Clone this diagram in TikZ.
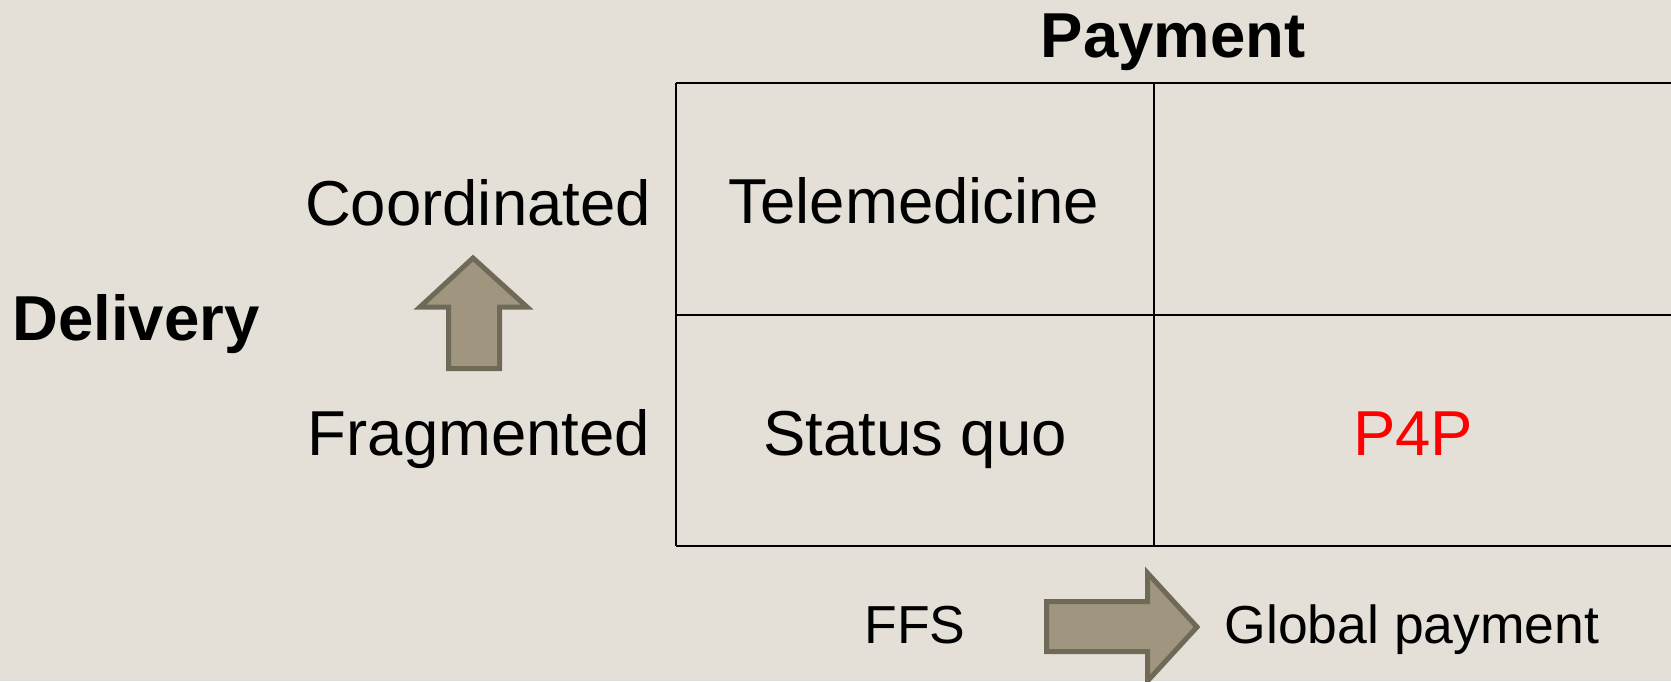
\documentclass[tikz,border=0pt]{standalone}
\usepackage{fontspec}
\setmainfont{Liberation Sans}
\definecolor{slidebg}{HTML}{E4E0D8}
\definecolor{arrowfill}{HTML}{A09680}
\definecolor{arrowline}{HTML}{6F6A58}
\definecolor{ppred}{HTML}{FF0000}
\begin{document}
\begin{tikzpicture}[x=1pt,y=-1pt,
	celltext/.style={inner sep=0pt,anchor=base,font=\fontsize{63.5}{70}\selectfont},
	axistitle/.style={inner sep=0pt,anchor=base,font=\fontsize{63.5}{70}\selectfont\bfseries},
	axisend/.style={inner sep=0pt,anchor=base,font=\fontsize{53.5}{60}\selectfont},
	blockarrow/.style={line width=5pt,line join=miter,draw=arrowline,fill=arrowfill}]
		%background
		\fill[slidebg] (0,0) rectangle (1671,681);
		\useasboundingbox (0,0) rectangle (1671,681);
		%grid
		\draw[line width=2.5pt] (676,83) -- (1680,83);
		\draw[line width=2.5pt] (676,315) -- (1680,315);
		\draw[line width=2.5pt] (676,546) -- (1680,546);
		\draw[line width=2.5pt] (676,83) -- (676,546);
		\draw[line width=2.5pt] (1154,83) -- (1154,546);
		%cells
		\node[celltext](tele) at (914,223) {Telemedicine};
		\node[celltext](quo) at (915,455) {Status quo};
		\node[celltext,color=ppred](pfp) at (1413,455) {P4P};
		%labels
		\node[axistitle](pay) at (1173,57) {Payment};
		\node[axistitle](deliv) at (136,340) {Delivery};
		\node[celltext](coord) at (478,225) {Coordinated};
		\node[celltext](frag) at (479,455) {Fragmented};
		\node[axisend](ffs) at (915,643) {FFS};
		\node[axisend](glob) at (1412,643) {Global payment};
		%arrows
		\draw[blockarrow] (473,258) -- (527,307) -- (499.5,307) -- (499.5,368.5) -- (448.5,368.5) -- (448.5,307) -- (420,307) -- cycle;
		\draw[blockarrow] (1046.5,601.5) -- (1147.5,601.5) -- (1147.5,573) -- (1197,627) -- (1147.5,681) -- (1147.5,651.5) -- (1046.5,651.5) -- cycle;
		\end{tikzpicture}
\end{document}
